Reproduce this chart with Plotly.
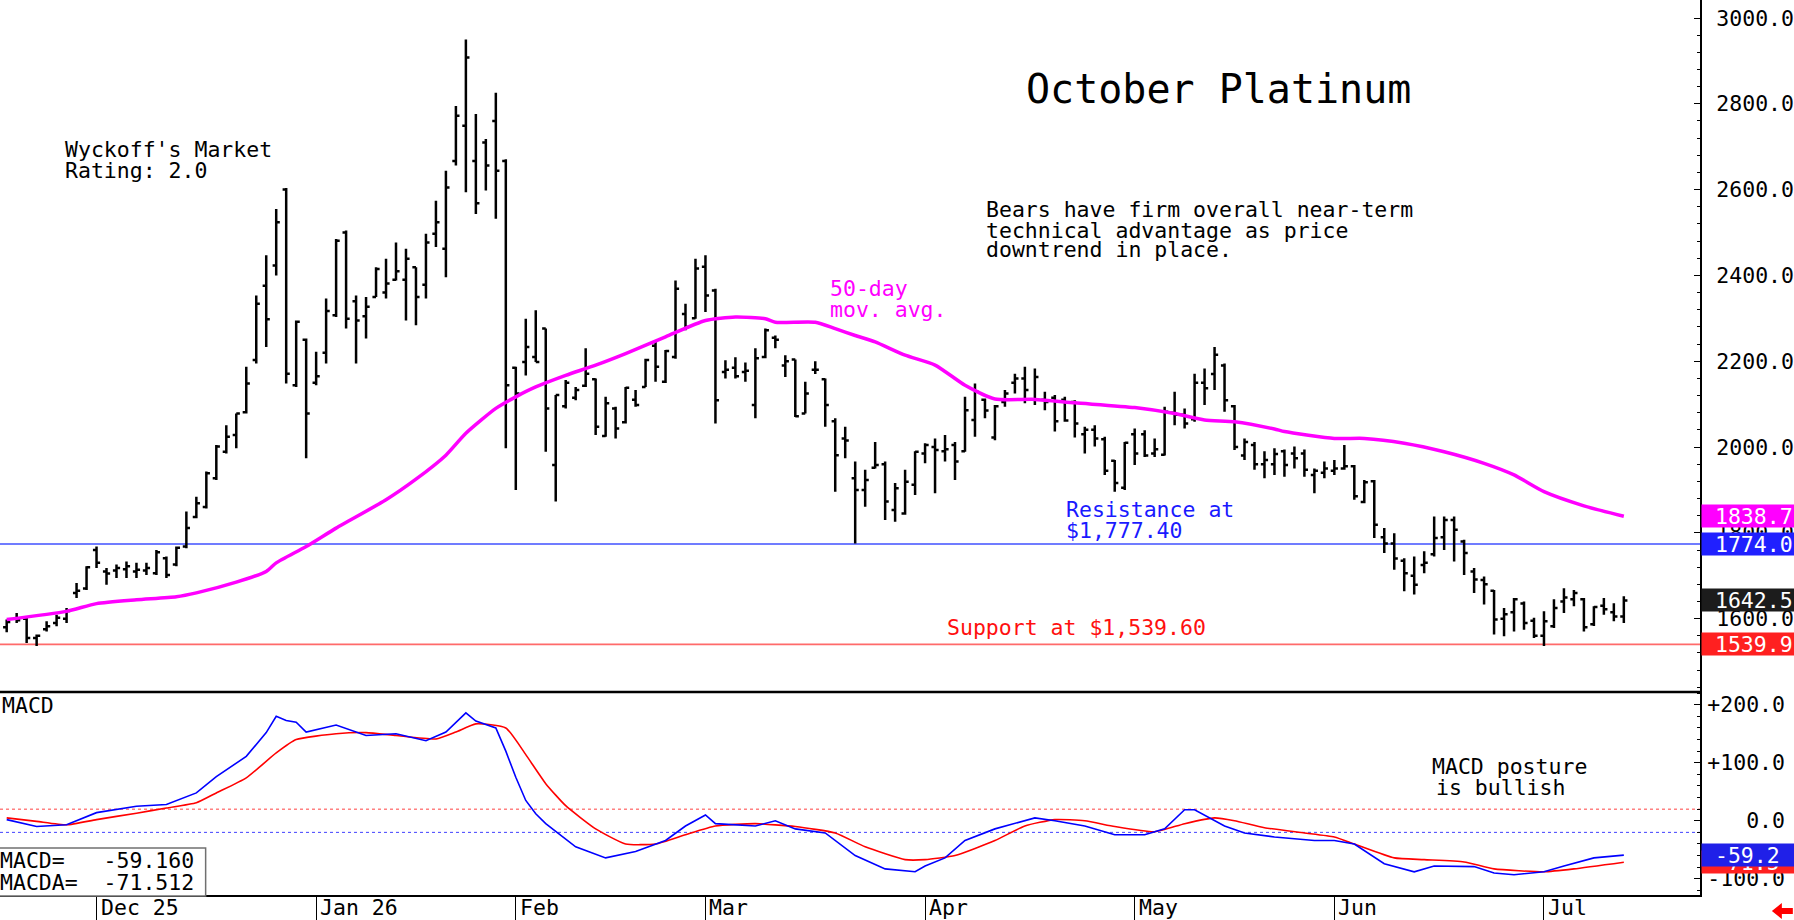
import pandas as pd
import plotly.graph_objects as go

# ---------------- data ----------------
session_start = "2025-11-17"
session_end = "2026-07-14"
market_holidays = ["2025-11-27", "2025-12-25", "2026-01-01", "2026-01-19", "2026-02-16",
                   "2026-04-03", "2026-05-25", "2026-06-19", "2026-07-03"]

open_ = [1580, 1600, 1600, 1555, 1575, 1590, 1600, 1660, 1670, 1760,
         1710, 1712, 1715, 1710, 1712, 1706, 1741, 1726, 1768, 1837,
         1860, 1927, 1989, 2028, 2081, 2203, 2376, 2423, 2600, 2144,
         2250, 2150, 2220, 2307, 2500, 2340, 2305, 2350, 2360, 2390,
         2390, 2419, 2378, 2497, 2462, 2667, 2749, 2667, 2710, 2760,
         2667, 2185, 2198, 2210, 2276, 1958, 2095, 2115, 2143, 2158,
         2026, 2090, 2058, 2110, 2140, 2236, 2152, 2210, 2310, 2300,
         2420, 2365, 2175, 2185, 2175, 2098, 2210, 2255, 2190, 2204,
         2078, 2180, 2158, 2060, 2020, 1927, 1900, 1952, 1960, 1853,
         1845, 1912, 1985, 2000, 1990, 2005, 1990, 2063, 2110, 2022,
         2105, 2150, 2160, 2110, 2110, 2115, 2110, 2105, 2030, 2040,
         2018, 1968, 1905, 2030, 2030, 1985, 1982, 2080, 2075, 2065,
         2150, 2170, 2190, 2095, 1980, 2005, 1960, 1960, 1990, 1985,
         1985, 1935, 1940, 1945, 1950, 1955, 1872, 1920, 1790, 1775,
         1735, 1700, 1725, 1750, 1790, 1830, 1780, 1710, 1690, 1665,
         1600, 1615, 1635, 1595, 1560, 1582, 1640, 1645, 1645, 1587,
         1630, 1615, 1605]
high = [1598, 1613, 1602, 1563, 1594, 1609, 1625, 1683, 1722, 1768,
        1718, 1726, 1733, 1730, 1730, 1760, 1745, 1768, 1850, 1884,
        1943, 2005, 2051, 2078, 2187, 2353, 2447, 2555, 2604, 2295,
        2253, 2222, 2346, 2485, 2505, 2353, 2350, 2419, 2439, 2477,
        2462, 2419, 2497, 2574, 2644, 2795, 2950, 2776, 2718, 2826,
        2671, 2187, 2299, 2319, 2276, 2121, 2156, 2140, 2230, 2160,
        2117, 2094, 2140, 2133, 2206, 2245, 2226, 2388, 2334, 2439,
        2447, 2369, 2202, 2209, 2197, 2230, 2276, 2260, 2214, 2204,
        2152, 2200, 2160, 2067, 2047, 1966, 1947, 2012, 1966, 1916,
        1947, 1990, 2009, 2020, 2028, 2012, 2117, 2148, 2113, 2098,
        2133, 2171, 2187, 2183, 2129, 2121, 2117, 2109, 2047, 2051,
        2024, 1970, 2012, 2043, 2039, 2020, 2094, 2129, 2090, 2171,
        2183, 2233, 2195, 2098, 2020, 2012, 1990, 1997, 1994, 2001,
        1994, 1950, 1966, 1970, 2005, 1958, 1923, 1923, 1811, 1799,
        1741, 1745, 1757, 1838, 1838, 1838, 1784, 1718, 1698, 1667,
        1625, 1648, 1640, 1602, 1617, 1645, 1671, 1667, 1648, 1629,
        1648, 1636, 1652]
low = [1568, 1590, 1543, 1536, 1570, 1582, 1590, 1648, 1667, 1718,
       1679, 1695, 1695, 1695, 1702, 1702, 1695, 1722, 1764, 1834,
       1857, 1923, 1985, 1997, 2078, 2195, 2233, 2400, 2148, 2140,
       1974, 2144, 2195, 2303, 2276, 2195, 2253, 2350, 2346, 2388,
       2295, 2284, 2346, 2466, 2396, 2656, 2594, 2543, 2598, 2532,
       1997, 1900, 2167, 2198, 1989, 1873, 2090, 2109, 2140, 2028,
       2024, 2020, 2055, 2094, 2140, 2152, 2149, 2206, 2272, 2299,
       2315, 2055, 2160, 2160, 2152, 2067, 2207, 2230, 2163, 2070,
       2078, 2170, 2047, 1896, 1974, 1775, 1861, 1950, 1830, 1826,
       1842, 1888, 1962, 1892, 1966, 1923, 1989, 2024, 2067, 2016,
       2094, 2125, 2102, 2098, 2086, 2036, 2059, 2022, 1985, 2001,
       1935, 1896, 1900, 1958, 1977, 1977, 1980, 2051, 2043, 2059,
       2098, 2133, 2082, 1993, 1970, 1947, 1927, 1935, 1931, 1950,
       1931, 1892, 1927, 1935, 1947, 1877, 1869, 1788, 1753, 1714,
       1664, 1656, 1706, 1745, 1760, 1733, 1702, 1660, 1633, 1563,
       1559, 1570, 1574, 1555, 1536, 1578, 1613, 1629, 1570, 1583,
       1609, 1594, 1590]
close = [1592, 1596, 1555, 1560, 1582, 1602, 1618, 1665, 1720, 1730,
         1705, 1718, 1722, 1714, 1718, 1755, 1702, 1765, 1811, 1869,
         1939, 2001, 2024, 2078, 2148, 2334, 2298, 2524, 2171, 2292,
         2078, 2165, 2317, 2481, 2299, 2295, 2327, 2415, 2381, 2410,
         2439, 2350, 2477, 2524, 2605, 2772, 2908, 2568, 2656, 2644,
         2144, 2125, 2233, 2198, 2090, 2121, 2150, 2133, 2171, 2047,
         2102, 2043, 2138, 2098, 2203, 2187, 2224, 2369, 2280, 2416,
         2353, 2109, 2180, 2165, 2178, 2207, 2272, 2250, 2200, 2072,
         2125, 2180, 2098, 1981, 2015, 1900, 1923, 1958, 1873, 1904,
         1919, 1989, 2005, 1993, 1995, 1966, 2086, 2129, 2085, 2095,
         2125, 2160, 2133, 2163, 2105, 2060, 2062, 2055, 2040, 2020,
         1945, 1916, 2010, 1985, 1980, 1995, 2082, 2075, 2055, 2150,
         2137, 2215, 2109, 2000, 2012, 1960, 1970, 1984, 1958, 1974,
         1947, 1945, 1950, 1950, 1955, 1885, 1918, 1819, 1775, 1740,
         1706, 1679, 1730, 1788, 1830, 1807, 1753, 1691, 1680, 1598,
         1610, 1645, 1590, 1560, 1594, 1625, 1649, 1660, 1580, 1627,
         1622, 1605, 1642.5]

ma_bar = [0, 6, 9, 13, 17, 19, 23, 26, 27, 30, 33, 38, 41, 44, 46, 49, 51, 53, 56, 59,
          62, 66, 70, 73, 76, 77, 81, 83, 85, 87, 90, 93, 96, 99, 103, 107, 113, 117,
          120, 123, 127, 128, 133, 136, 140, 144, 148, 151, 154, 158, 162]
ma_value = [1598, 1617, 1635, 1644, 1651, 1660, 1685, 1710, 1730, 1768, 1811, 1877, 1925,
            1981, 2032, 2090, 2117, 2140, 2167, 2191, 2218, 2257, 2295, 2303, 2299, 2291,
            2291, 2276, 2260, 2245, 2214, 2191, 2144, 2112, 2111, 2103, 2092, 2078, 2063,
            2059, 2042, 2036, 2020, 2020, 2009, 1989, 1962, 1935, 1896, 1863, 1838.7]

macd_bar = [0, 3, 6, 9, 13, 16, 19, 21, 24, 26, 27, 28, 29, 30, 33, 36, 39, 42, 44, 46,
            47, 49, 50, 51, 52, 53, 54, 57, 60, 63, 66, 68, 70, 71, 75, 77, 79, 82, 85,
            88, 91, 92, 94, 96, 99, 103, 105, 108, 111, 114, 116, 118, 119, 122, 124, 127,
            131, 133, 135, 138, 141, 143, 147, 149, 151, 154, 156, 159, 162]
macd_value = [2, -10, -7, 14, 25, 28, 48, 76, 111, 152, 180, 173, 170, 153, 165, 147, 150,
              138, 153, 186, 172, 160, 120, 75, 35, 12, -5, -45, -64, -53, -34, -9, 10, -5,
              -9, 0, -14, -21, -60, -83, -88, -78, -64, -34, -14, 5, 0, -9, -24, -24, -14,
              19, 19, -9, -21, -28, -34, -34, -40, -74, -88, -78, -79, -90, -93, -88, -78,
              -64, -59.2]

signal_bar = [0, 3, 6, 9, 13, 16, 19, 21, 24, 27, 29, 33, 36, 39, 43, 45, 47, 50, 52, 54,
              56, 59, 62, 65, 68, 71, 75, 79, 83, 86, 90, 92, 95, 99, 102, 105, 108, 111,
              115, 118, 121, 123, 126, 130, 133, 135, 139, 142, 146, 149, 154, 157, 162]
signal_value = [5, -1, -7, 2, 13, 22, 31, 48, 74, 117, 140, 150, 152, 147, 141, 153, 167,
                160, 114, 64, 26, -14, -40, -40, -24, -9, -5, -10, -21, -45, -67, -67, -60,
                -34, -9, 2, 0, -10, -19, -5, 5, 0, -12, -21, -28, -40, -64, -67, -71, -83,
                -88, -83, -71.5]

month_labels = ["Dec 25", "Jan 26", "Feb", "Mar", "Apr", "May", "Jun", "Jul"]

resistance_level = 1774.0
support_level = 1539.9
last_close = 1642.5
ma_last = 1838.7
macd_last = -59.2
macda_last = -71.5
macd_reading = "-59.160"
macda_reading = "-71.512"
macd_upper_ref = 20
macd_lower_ref = -20

price_ticks = [1600, 1800, 2000, 2200, 2400, 2600, 2800, 3000]
macd_ticks = [200, 100, 0, -100]
macd_tick_text = ["+200.0", "+100.0", "\u00a0\u00a0\u00a00.0", "-100.0"]

# ---------------- build ----------------
dates = pd.bdate_range(session_start, session_end)
dates = dates[~dates.isin(pd.to_datetime(market_holidays))]
xs = list(range(len(dates)))
month_idx = [i for i in range(1, len(dates)) if dates[i].month != dates[i - 1].month]

W, H = 1794, 920
ML, MR, MT, MB = 0, 91, 0, 25
PW, PH = W - ML - MR, H - MT - MB
SPLIT = 692  # pixel y of pane separator


def px(x):
    return x / PW


def py(y):
    return 1 - y / PH


FONT = "DejaVu Sans Mono"
fig = go.Figure()

fig.add_trace(go.Ohlc(
    x=xs, open=open_, high=high, low=low, close=close,
    increasing=dict(line=dict(color="black", width=2.5)),
    decreasing=dict(line=dict(color="black", width=2.5)),
    tickwidth=0.36, hoverinfo="skip", showlegend=False, xaxis="x", yaxis="y"))

fig.add_trace(go.Scatter(x=ma_bar, y=ma_value, mode="lines",
                         line=dict(color="#ff00ff", width=3.5, shape="spline", smoothing=0.6),
                         hoverinfo="skip", showlegend=False, xaxis="x", yaxis="y"))

fig.add_trace(go.Scatter(x=signal_bar, y=signal_value, mode="lines",
                         line=dict(color="#ff0000", width=1.6, shape="spline", smoothing=0.5),
                         hoverinfo="skip", showlegend=False, xaxis="x", yaxis="y2"))
fig.add_trace(go.Scatter(x=macd_bar, y=macd_value, mode="lines",
                         line=dict(color="#0000ff", width=1.6),
                         hoverinfo="skip", showlegend=False, xaxis="x", yaxis="y2"))

split_dom = (PH - SPLIT) / PH

shapes = [
    dict(type="line", xref="paper", yref="y", x0=0, x1=1, y0=resistance_level, y1=resistance_level,
         line=dict(color="#4050ff", width=1.6), layer="below"),
    dict(type="line", xref="paper", yref="y", x0=0, x1=1, y0=support_level, y1=support_level,
         line=dict(color="#ff6a6a", width=1.6), layer="below"),
    dict(type="line", xref="paper", yref="y2", x0=0, x1=1, y0=macd_upper_ref, y1=macd_upper_ref,
         line=dict(color="#ff4040", width=1, dash="dot"), layer="below"),
    dict(type="line", xref="paper", yref="y2", x0=0, x1=1, y0=macd_lower_ref, y1=macd_lower_ref,
         line=dict(color="#4040ff", width=1, dash="dot"), layer="below"),
    dict(type="line", xref="paper", yref="paper", x0=0, x1=1, y0=split_dom, y1=split_dom,
         line=dict(color="black", width=2.5)),
    dict(type="rect", xref="paper", yref="paper", x0=px(-5), x1=px(206), y0=py(896), y1=py(848),
         line=dict(color="#707070", width=1.5), fillcolor="white"),
    dict(type="path", xref="paper", yref="paper",
         path=f"M {px(1775)} {py(911)} L {px(1785)} {py(903)} L {px(1785)} {py(908)} "
              f"L {px(1796)} {py(908)} L {px(1796)} {py(914)} L {px(1785)} {py(914)} "
              f"L {px(1785)} {py(919)} Z",
         fillcolor="#ff0000", line=dict(color="#ff0000", width=0)),
]

ann = []


def text(x, y, s, size=21.5, color="black", anchor="left"):
    ann.append(dict(x=px(x), y=py(y), xref="paper", yref="paper", text=s, showarrow=False,
                    xanchor=anchor, yanchor="middle",
                    font=dict(family=FONT, size=size, color=color)))


text(1026, 89, "October Platinum", size=40)
text(63, 150, "Wyckoff's Market")
text(63, 171, "Rating: 2.0")
text(986, 210, "Bears have firm overall near-term")
text(986, 230, "technical advantage as price")
text(986, 249, "downtrend in place.")
text(829, 288, "50-day", color="#ff00ff")
text(829, 309, "mov. avg.", color="#ff00ff")
text(1066, 509, "Resistance at", color="#1a1aff")
text(1066, 530, "$1,777.40", color="#1a1aff")
text(947, 627, "Support at $1,539.60", color="#ff1010")
text(0, 705, "MACD")
text(1433, 766, "MACD posture")
text(1437, 787, "is bullish")
text(-2, 860, "MACD=\u00a0\u00a0\u00a0" + macd_reading)
text(-2, 882, "MACDA=\u00a0\u00a0" + macda_reading)

for i, lab in zip(month_idx, month_labels):
    ann.append(dict(x=i, y=py(907), xref="x", yref="paper", text=lab, showarrow=False,
                    xanchor="left", yanchor="middle", xshift=2,
                    font=dict(family=FONT, size=21.5, color="black")))


def box(val, yref, bg, s):
    ann.append(dict(x=1, y=val, xref="paper", yref=yref, text="\u00a0" + s, showarrow=False,
                    xanchor="left", yanchor="middle", xshift=1, align="left",
                    width=100, height=22, bgcolor=bg, borderpad=0,
                    font=dict(family=FONT, size=21.5, color="white")))


box(ma_last, "y", "#ff00ff", f"{ma_last:.1f}")
box(resistance_level, "y", "#2020ff", f"{resistance_level:.1f}")
box(last_close, "y", "#1c1c1c", f"{last_close:.1f}")
box(support_level, "y", "#ff2020", f"{support_level:.1f}")
box(macda_last, "y2", "#ff2020", f"{macda_last:.1f}")
box(macd_last, "y2", "#2020e8", f"{macd_last:.1f}")

fig.update_layout(
    width=W, height=H, autosize=False,
    margin=dict(l=ML, r=MR, t=MT, b=MB, pad=0),
    paper_bgcolor="white", plot_bgcolor="white",
    showlegend=False, shapes=shapes, annotations=ann,
    xaxis=dict(range=[-0.67, 169.63], showgrid=False, zeroline=False,
               tickvals=month_idx, ticks="outside", ticklen=25, tickwidth=1.2, tickcolor="black",
               showticklabels=False, showline=True, linecolor="black", linewidth=2,
               anchor="y2", rangeslider=dict(visible=False), fixedrange=True),
    yaxis=dict(domain=[split_dom, 1], range=[1429, 3042], side="right", anchor="x",
               showgrid=False, zeroline=False, showline=True, linecolor="black", linewidth=2,
               tickvals=price_ticks, ticktext=[f"{v:.1f}" for v in price_ticks],
               ticks="inside", ticklen=6, tickcolor="black", ticklabelstandoff=10,
               minor=dict(ticks="inside", ticklen=3, dtick=40, tickcolor="black"),
               tickfont=dict(family=FONT, size=21.5, color="black")),
    yaxis2=dict(domain=[0, split_dom], range=[-128, 222], side="right", anchor="x",
                showgrid=False, zeroline=False, showline=True, linecolor="black", linewidth=2,
                tickvals=macd_ticks, ticktext=macd_tick_text,
                ticks="inside", ticklen=6, tickcolor="black", ticklabelstandoff=1,
                minor=dict(ticks="inside", ticklen=3, dtick=20, tickcolor="black"),
                tickfont=dict(family=FONT, size=21.5, color="black")),
)

fig.write_html("out.html")
